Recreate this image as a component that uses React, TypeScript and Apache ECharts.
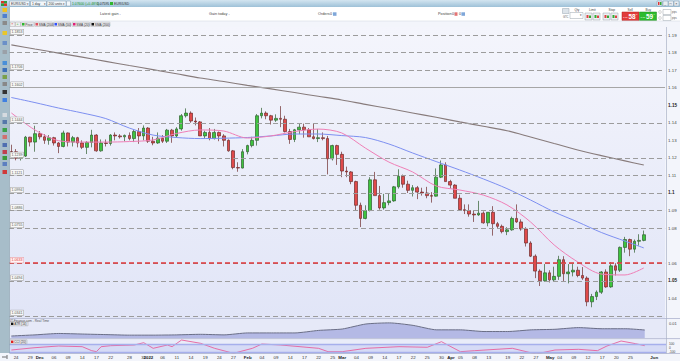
import React, { useEffect, useRef } from "react";
import * as echarts from "echarts";

const FONT = "Liberation Sans, Arial, sans-serif";

// ---------- categories (trading days) ----------
const nov21 = [23, 24, 25, 26, 29, 30];
const dec21 = [1, 2, 3, 6, 7, 8, 9, 10, 13, 14, 15, 16, 17, 20, 21, 22, 23, 24, 27, 28, 29, 30, 31];
const jan22 = [3, 4, 5, 6, 7, 10, 11, 12, 13, 14, 17, 18, 19, 20, 21, 24, 25, 26, 27, 28, 31];
const feb22 = [1, 2, 3, 4, 7, 8, 9, 10, 11, 14, 15, 16, 17, 18, 21, 22, 23, 24, 25, 28];
const mar22 = [1, 2, 3, 4, 7, 8, 9, 10, 11, 14, 15, 16, 17, 18, 21, 22, 23, 24, 25, 28, 29, 30, 31];
const apr22 = [1, 4, 5, 6, 7, 8, 11, 12, 13, 14, 15, 18, 19, 20, 21, 22, 25, 26, 27, 28, 29];
const may22 = [2, 3, 4, 5, 6, 9, 10, 11, 12, 13, 16, 17, 18, 19, 20, 23, 24, 25, 26, 27, 30, 31];
const jun22 = [1, 2, 3];
const monthDays: [string, number[]][] = [
  ["2021-11", nov21], ["2021-12", dec21], ["2022-01", jan22], ["2022-02", feb22],
  ["2022-03", mar22], ["2022-04", apr22], ["2022-05", may22], ["2022-06", jun22],
];
const categories = monthDays.flatMap(([m, ds]) => ds.map((d) => `${m}-${String(d).padStart(2, "0")}`));

// ---------- EUR/USD daily OHLC ----------
const open = [
  1.1236, 1.1235, 1.1198, 1.1210, 1.1318, 1.1290,
  1.1338, 1.1320, 1.1300, 1.1315, 1.1285, 1.1265, 1.1342, 1.1290, 1.1315, 1.1285, 1.1260, 1.1288, 1.1330, 1.1240, 1.1285, 1.1282, 1.1330, 1.1325, 1.1320, 1.1328, 1.1310, 1.1350, 1.1325,
  1.1370, 1.1295, 1.1285, 1.1312, 1.1295, 1.1358, 1.1325, 1.1365, 1.1440, 1.1455, 1.1410, 1.1405, 1.1325, 1.1345, 1.1310, 1.1345, 1.1325, 1.1300, 1.1240, 1.1145, 1.1142,
  1.1235, 1.1270, 1.1300, 1.1440, 1.1455, 1.1440, 1.1415, 1.1425, 1.1420, 1.1350, 1.1305, 1.1360, 1.1375, 1.1360, 1.1320, 1.1310, 1.1315, 1.1310, 1.1195, 1.1270,
  1.1220, 1.1125, 1.1120, 1.1065, 1.0930, 1.0855, 1.0900, 1.1075, 1.0985, 1.0915, 1.0945, 1.0955, 1.1035, 1.1095, 1.1050, 1.1015, 1.1030, 1.1005, 1.1000, 1.0985, 1.0982, 1.1090, 1.1160,
  1.1065, 1.1045, 1.0970, 1.0905, 1.0900, 1.0880, 1.0875, 1.0885, 1.0830, 1.0890, 1.0825, 1.0810, 1.0780, 1.0790, 1.0855, 1.0835, 1.0795, 1.0715, 1.0640, 1.0555, 1.0500,
  1.0545, 1.0505, 1.0525, 1.0620, 1.0540, 1.0550, 1.0560, 1.0530, 1.0515, 1.0380, 1.0410, 1.0435, 1.0550, 1.0465, 1.0585, 1.0560, 1.0690, 1.0735, 1.0680, 1.0725, 1.0730,
];
const close = [
  1.1235, 1.1198, 1.1210, 1.1318, 1.1290, 1.1338,
  1.1320, 1.1300, 1.1315, 1.1285, 1.1265, 1.1342, 1.1290, 1.1315, 1.1285, 1.1260, 1.1288, 1.1330, 1.1240, 1.1285, 1.1282, 1.1330, 1.1325, 1.1320, 1.1328, 1.1310, 1.1350, 1.1325, 1.1370,
  1.1295, 1.1285, 1.1312, 1.1295, 1.1358, 1.1325, 1.1365, 1.1440, 1.1455, 1.1410, 1.1405, 1.1325, 1.1345, 1.1310, 1.1345, 1.1325, 1.1300, 1.1240, 1.1145, 1.1142, 1.1235,
  1.1270, 1.1300, 1.1440, 1.1455, 1.1440, 1.1415, 1.1425, 1.1420, 1.1350, 1.1305, 1.1360, 1.1375, 1.1360, 1.1320, 1.1310, 1.1315, 1.1310, 1.1195, 1.1270, 1.1220,
  1.1125, 1.1120, 1.1065, 1.0930, 1.0855, 1.0900, 1.1075, 1.0985, 1.0915, 1.0945, 1.0955, 1.1035, 1.1095, 1.1050, 1.1015, 1.1030, 1.1005, 1.1000, 1.0985, 1.0982, 1.1090, 1.1160, 1.1065,
  1.1045, 1.0970, 1.0905, 1.0900, 1.0880, 1.0875, 1.0885, 1.0830, 1.0890, 1.0825, 1.0810, 1.0780, 1.0790, 1.0855, 1.0835, 1.0795, 1.0715, 1.0640, 1.0555, 1.0500, 1.0545,
  1.0505, 1.0525, 1.0620, 1.0540, 1.0550, 1.0560, 1.0530, 1.0515, 1.0380, 1.0410, 1.0435, 1.0550, 1.0465, 1.0585, 1.0560, 1.0690, 1.0735, 1.0680, 1.0725, 1.0730, 1.0762,
];
const high = [
  1.1275, 1.1250, 1.1230, 1.1325, 1.1320, 1.1383,
  1.1352, 1.1335, 1.1330, 1.1320, 1.1290, 1.1355, 1.1345, 1.1325, 1.1320, 1.1300, 1.1295, 1.1360, 1.1335, 1.1305, 1.1305, 1.1335, 1.1345, 1.1335, 1.1333, 1.1345, 1.1360, 1.1370, 1.1385,
  1.1375, 1.1320, 1.1345, 1.1330, 1.1365, 1.1365, 1.1375, 1.1450, 1.1482, 1.1465, 1.1430, 1.1410, 1.1355, 1.1370, 1.1365, 1.1350, 1.1335, 1.1305, 1.1245, 1.1175, 1.1250,
  1.1275, 1.1320, 1.1450, 1.1485, 1.1465, 1.1445, 1.1448, 1.1495, 1.1440, 1.1365, 1.1365, 1.1395, 1.1395, 1.1370, 1.1395, 1.1365, 1.1345, 1.1325, 1.1275, 1.1275,
  1.1235, 1.1150, 1.1125, 1.1070, 1.0945, 1.0930, 1.1090, 1.1120, 1.1040, 1.0995, 1.1000, 1.1040, 1.1135, 1.1105, 1.1070, 1.1045, 1.1040, 1.1030, 1.1035, 1.1005, 1.1140, 1.1185, 1.1175,
  1.1075, 1.1050, 1.0990, 1.0935, 1.0935, 1.0900, 1.0955, 1.0895, 1.0890, 1.0925, 1.0835, 1.0820, 1.0805, 1.0865, 1.0935, 1.0850, 1.0805, 1.0725, 1.0650, 1.0565, 1.0595,
  1.0560, 1.0580, 1.0642, 1.0640, 1.0595, 1.0595, 1.0580, 1.0578, 1.0525, 1.0425, 1.0445, 1.0555, 1.0565, 1.0605, 1.0600, 1.0695, 1.0750, 1.0740, 1.0735, 1.0765, 1.0786,
];
const low = [
  1.1226, 1.1186, 1.1185, 1.1205, 1.1265, 1.1235,
  1.1305, 1.1280, 1.1275, 1.1270, 1.1227, 1.1260, 1.1265, 1.1265, 1.1260, 1.1250, 1.1222, 1.1260, 1.1235, 1.1235, 1.1265, 1.1270, 1.1300, 1.1310, 1.1295, 1.1300, 1.1290, 1.1280, 1.1300,
  1.1285, 1.1272, 1.1280, 1.1285, 1.1285, 1.1286, 1.1315, 1.1355, 1.1430, 1.1400, 1.1385, 1.1325, 1.1310, 1.1300, 1.1305, 1.1295, 1.1265, 1.1235, 1.1135, 1.1121, 1.1140,
  1.1220, 1.1260, 1.1270, 1.1425, 1.1420, 1.1390, 1.1405, 1.1375, 1.1345, 1.1280, 1.1290, 1.1335, 1.1315, 1.1320, 1.1305, 1.1290, 1.1300, 1.1106, 1.1185, 1.1160,
  1.1090, 1.1090, 1.1050, 1.0900, 1.0806, 1.0850, 1.0895, 1.0985, 1.0905, 1.0905, 1.0930, 1.0950, 1.1025, 1.1030, 1.1000, 1.0980, 1.0965, 1.0985, 1.0970, 1.0945, 1.0980, 1.1085, 1.1065,
  1.1025, 1.0970, 1.0900, 1.0880, 1.0865, 1.0835, 1.0870, 1.0825, 1.0810, 1.0757, 1.0800, 1.0770, 1.0760, 1.0785, 1.0830, 1.0785, 1.0695, 1.0635, 1.0515, 1.0470, 1.0495,
  1.0490, 1.0495, 1.0505, 1.0495, 1.0485, 1.0525, 1.0520, 1.0505, 1.0355, 1.0349, 1.0390, 1.0425, 1.0460, 1.0460, 1.0530, 1.0550, 1.0660, 1.0640, 1.0660, 1.0700, 1.0725,
];

// ---------- moving averages (every 5th session) ----------
const maIdx = [0, 5, 10, 15, 20, 25, 30, 35, 40, 45, 50, 55, 60, 65, 70, 75, 80, 85, 90, 95, 100, 105, 110, 115, 120, 125, 130, 134];
const sma200 = [1.1844, 1.1820, 1.1797, 1.1774, 1.1750, 1.1726, 1.1703, 1.1679, 1.1655, 1.1635, 1.1613, 1.1593, 1.1572, 1.1551, 1.1530, 1.1505, 1.1481, 1.1456, 1.1431, 1.1405, 1.1380, 1.1355, 1.1319, 1.1282, 1.1245, 1.1213, 1.1183, 1.1159];
const sma50 = [1.1544, 1.1515, 1.1484, 1.1456, 1.1424, 1.1370, 1.1330, 1.1316, 1.1310, 1.1312, 1.1316, 1.1325, 1.1336, 1.1336, 1.1327, 1.1316, 1.1279, 1.1228, 1.1179, 1.1131, 1.1080, 1.1025, 1.0960, 1.0892, 1.0835, 1.0775, 1.0726, 1.0687];
const sma20 = [1.1456, 1.1359, 1.1298, 1.1290, 1.1290, 1.1293, 1.1302, 1.1339, 1.1359, 1.1353, 1.1313, 1.1325, 1.1350, 1.1364, 1.1342, 1.1256, 1.1176, 1.1120, 1.1040, 1.1017, 1.0988, 1.0932, 1.0835, 1.0704, 1.0607, 1.0538, 1.0533, 1.0573];
const atr14 = [0.0057, 0.0061, 0.0066, 0.0064, 0.0062, 0.0060, 0.0060, 0.0061, 0.0063, 0.0061, 0.0068, 0.0068, 0.0068, 0.0077, 0.0082, 0.0100, 0.0104, 0.0095, 0.0079, 0.0079, 0.0073, 0.0073, 0.0079, 0.0081, 0.0087, 0.0083, 0.0083, 0.00785];

const cciIdx = [0, 5, 10, 15, 17, 18, 19, 21, 26, 28, 30, 33, 34, 36, 40, 43, 47, 51, 53, 57, 65, 67, 70, 75, 82, 88, 91, 95, 98, 106, 111, 115, 120, 124, 126, 129, 132, 134];
const cci20 = [-50, 8, 50, 33, -67, -92, 33, 58, 75, 133, -8, 75, 33, 200, 118, -8, -133, -8, 100, 75, -8, -92, -92, -8, 33, 18, 158, -92, -67, -8, -150, -50, -33, -67, 50, 175, 110, 58];

// ---------- axis ticks & levels ----------
const priceTicks = [1.04, 1.05, 1.06, 1.08, 1.09, 1.1, 1.11, 1.12, 1.13, 1.14, 1.15, 1.16, 1.17, 1.18, 1.19];
const xTickDates = [
  "2021-11-24", "2021-11-29", "2021-12-01", "2021-12-06", "2021-12-09", "2021-12-14", "2021-12-17", "2021-12-22", "2021-12-28", "2021-12-31",
  "2022-01-03", "2022-01-06", "2022-01-11", "2022-01-14", "2022-01-19", "2022-01-24", "2022-01-27",
  "2022-02-01", "2022-02-04", "2022-02-09", "2022-02-14", "2022-02-17", "2022-02-22", "2022-02-25",
  "2022-03-01", "2022-03-04", "2022-03-09", "2022-03-14", "2022-03-17", "2022-03-22", "2022-03-25", "2022-03-30",
  "2022-04-01", "2022-04-05", "2022-04-08", "2022-04-13", "2022-04-19", "2022-04-22", "2022-04-27",
  "2022-05-02", "2022-05-04", "2022-05-09", "2022-05-12", "2022-05-17", "2022-05-20", "2022-05-25", "2022-06-01",
];
const xTickText = [
  "24", "29", "Dec", "06", "09", "14", "17", "22", "28", "31",
  "2022", "06", "11", "14", "19", "24", "27",
  "Feb", "04", "09", "14", "17", "22", "25",
  "Mar", "04", "09", "14", "17", "22", "25", "30",
  "Apr", "05", "08", "13", "19", "22", "27",
  "May", "04", "09", "12", "17", "20", "25", "Jun",
];
const dashedLevels = [1.1924, 1.1853, 1.1839, 1.1706, 1.1444, 1.1239, 1.1216, 1.1121, 1.0994, 1.0886, 1.0817, 1.0755, 1.0568, 1.0494, 1.0341];
const unlabeledLevels = [1.1839, 1.1216];
const solidLevels = [1.1602];
const redLevels = [1.0633];

// ---------- helpers ----------
const sparse = (idx: number[], vals: number[]) => {
  const a: (number | null)[] = categories.map(() => null);
  idx.forEach((k, j) => (a[k] = vals[j]));
  return a;
};
const tickMap = new Map(xTickDates.map((d, i) => [d, xTickText[i]]));

const T = (x: number, y: number, text: string, o: any = {}) => ({
  type: "text", x, y, z: 60, silent: true,
  style: {
    text, fontSize: o.size ?? 3.8, fill: o.fill ?? "#333", fontWeight: o.weight ?? "normal", fontFamily: FONT,
    align: o.align ?? "left", verticalAlign: "middle", textAlign: o.align ?? "left", textVerticalAlign: "middle",
  },
});
const R = (x: number, y: number, w: number, h: number, fill: any, stroke?: string, r = 0) => ({
  type: "rect", z: 55, silent: true, shape: { x, y, width: w, height: h, r },
  style: { fill, stroke: stroke ?? "none", lineWidth: stroke ? 0.5 : 0 },
});
const L = (x1: number, y1: number, x2: number, y2: number, stroke: string, w = 0.6) => ({
  type: "line", z: 56, silent: true, shape: { x1, y1, x2, y2 }, style: { stroke, lineWidth: w },
});

const lvlLabel = {
  show: true, position: "insideStartTop", distance: [1.5, 0.6], fontSize: 3.6, color: "#555", fontFamily: FONT,
  backgroundColor: "#f8f8f8", borderColor: "#9a9a9a", borderWidth: 0.5, padding: [0.6, 1, 0.3, 1],
};
const tag = (v: number, text: string, bg: string, fg: string, bc: string) => ({
  yAxis: v, lineStyle: { opacity: 0, width: 0 },
  label: {
    show: true, position: "end", distance: 1, formatter: text, fontSize: 3.4, lineHeight: 3.6, color: fg, fontFamily: FONT,
    backgroundColor: bg, borderColor: bc, borderWidth: 0.5, padding: [0.4, 1, 0.2, 1],
  },
});

function buildGraphics() {
  const g: any[] = [];
  // top bar
  g.push(R(0, 0, 680, 7, new echarts.graphic.LinearGradient(0, 0, 0, 1, [
    { offset: 0, color: "#d3e5f0" }, { offset: 1, color: "#9ec1d8" }])));
  g.push(R(1, 1, 3, 2.5, "#d9352b"), R(4, 1, 3, 2.5, "#2e9e3e"), R(1, 3.5, 3, 2.5, "#2e9e3e"), R(4, 3.5, 3, 2.5, "#d9352b"));
  g.push(R(9.5, 1, 20, 5, "#f3f7fa", "#7f9bb0"), T(11, 3.6, "EUR/USD", { size: 3.4 }), T(27, 3.6, "▾", { size: 3 }));
  g.push(R(30.5, 1, 16, 5, "#f3f7fa", "#7f9bb0"), T(32, 3.6, "1 day", { size: 3.4 }), T(43.5, 3.6, "▾", { size: 3 }));
  g.push(R(47, 1, 19, 5, "#f3f7fa", "#7f9bb0"), T(48.5, 3.6, "200 units", { size: 3.4 }), T(63, 3.6, "▾", { size: 3 }));
  g.push(R(66.5, 1, 4, 5, "#f3f7fa", "#7f9bb0"));
  g.push(T(72, 3.6, "1.07600 (+0.48%)", { size: 3.4, fill: "#1f9a2a" }), T(97, 3.6, "1.07595", { size: 3.4, fill: "#222" }));
  g.push(R(110, 2, 3, 3, "#2fb52f"), T(114, 3.6, "EUR/USD", { size: 3.4 }));
  g.push(R(657, 1, 5, 5, "#e8eef2", "#7f9bb0"), R(658, 2, 1.5, 3, "#d33"), R(660, 2, 1.5, 3, "#3a3"));
  g.push(R(663, 1, 5, 5, "#e8eef2", "#7f9bb0"), T(664.3, 3.8, "_", { size: 3.4 }));
  g.push(R(668.5, 1, 5, 5, "#e8eef2", "#7f9bb0"), T(669.6, 3.6, "□", { size: 3.4 }));
  g.push(R(674, 1, 5, 5, "#e8eef2", "#7f9bb0"), T(675.2, 3.6, "×", { size: 3.8 }));
  // info panel
  g.push(R(9.5, 7, 670.5, 14, "#ffffff"), L(9.5, 21, 680, 21, "#cdd5dd", 0.5));
  g.push(T(100, 14, "Latest gain", { fill: "#444" }), T(119.5, 14, "-", { fill: "#444" }));
  g.push(T(209, 14, "Gain today", { fill: "#444" }), T(228.5, 14, "-", { fill: "#444" }));
  g.push(T(318, 14, "Orders", { fill: "#444" }), T(330, 14, "0", { fill: "#444" }), R(333, 12.3, 3.5, 3.5, "#7fa6d9"));
  g.push(T(438, 14, "Position", { fill: "#444" }), T(452, 14, "0", { fill: "#444" }), R(454.5, 12.3, 3, 3.5, "#e57373"));
  g.push(T(459, 14, "0", { fill: "#444" }), R(461.5, 12.3, 3.5, 3.5, "#7fa6d9"));
  // trading widget
  g.push(R(562.5, 8.5, 6.5, 5, "#dde4ea", "#98a6b0"), T(563, 17, "GTC", { size: 2.6, fill: "#555" }));
  g.push(T(574.5, 10, "Qty", { size: 3.2, fill: "#444" }), R(570, 12.5, 13, 6, "#ffffff", "#9aa4ad"), T(580, 15.5, "▾", { size: 2.6 }));
  g.push(T(589, 10, "Limit", { size: 3.2, fill: "#444" }), R(585, 13, 7, 7, "#eef1f4", "#99a2ab"), R(593, 13, 7, 7, "#eef1f4", "#99a2ab"));
  g.push(R(586.5, 15, 2, 3, "#d44"), R(589, 15.5, 2, 2.5, "#3a3"), R(594.5, 15, 2, 3, "#3a3"), R(597, 15.5, 2, 2.5, "#d44"));
  g.push(T(608.5, 10, "Stop", { size: 3.2, fill: "#444" }), R(603, 13, 7, 7, "#eef1f4", "#99a2ab"), R(611, 13, 7, 7, "#eef1f4", "#99a2ab"));
  g.push(R(604.5, 15, 2, 3, "#d44"), R(607, 15.5, 2, 2.5, "#3a3"), R(612.5, 15, 2, 3, "#3a3"), R(615, 15.5, 2, 2.5, "#d44"));
  g.push(T(627.5, 9.6, "Sell", { size: 3.2, fill: "#444" }), R(622, 12, 17, 8.5, "#e23b3b", "#b32222"));
  g.push(T(623, 17, "1.07", { size: 2.4, fill: "#fff" }), T(628.5, 16.2, "58", { size: 6.4, fill: "#fff", weight: "bold" }), T(636, 14, "0", { size: 2.4, fill: "#fff" }));
  g.push(T(645.5, 9.6, "Buy", { size: 3.2, fill: "#444" }), R(639.5, 12, 17, 8.5, "#2dbb2d", "#1e8a1e"));
  g.push(T(640.5, 17, "1.07", { size: 2.4, fill: "#fff" }), T(646, 16.2, "59", { size: 6.4, fill: "#fff", weight: "bold" }), T(653.5, 14, "9", { size: 2.4, fill: "#fff" }));
  g.push({ type: "circle", z: 56, silent: true, shape: { cx: 660, cy: 12, r: 1.3 }, style: { fill: "#fff", stroke: "#888", lineWidth: 0.4 } });
  g.push({ type: "circle", z: 56, silent: true, shape: { cx: 660, cy: 18, r: 1.3 }, style: { fill: "#fff", stroke: "#888", lineWidth: 0.4 } });
  g.push(R(663, 9.5, 8, 5, "#fff", "#99a2ab"), R(663, 15.5, 8, 5, "#fff", "#99a2ab"));
  g.push(T(672, 12, "pips", { size: 2.6, fill: "#555" }), T(672, 18, "pips", { size: 2.6, fill: "#555" }));
  // left toolbar
  g.push(R(0, 7, 9.5, 346, "#a7bdc9"), L(9.5, 7, 9.5, 353, "#8ba1ad", 0.6));
  const icons: [number, string][] = [
    [10, "#f0c020"], [16, "#4f7fcf"], [23, "#8a8a8a"], [33, "#e9c62a"], [43, "#6a8fc8"], [52, "#9aa0a8"],
    [63, "#4a8fd8"], [70, "#3d6fb8"], [77, "#7aa04a"], [84, "#888888"], [92, "#333333"], [100, "#3f7fe0"],
    [115, "#d6dbe0"], [122, "#5577aa"], [130, "#3aa04a"], [137, "#d07070"], [145, "#4f6fb0"], [152, "#c04050"],
    [158, "#3a9a3a"], [164, "#5c7fc0"], [172, "#d03a3a"],
  ];
  icons.forEach(([y, c]) => g.push(R(2.5, y - 2, 4.5, 4, c)));
  g.push(L(2, 357, 6.5, 357, "#333", 0.7), L(7, 355, 7, 359, "#333", 0.7));
  // price legend row
  g.push(R(10, 22, 5, 4.5, "#efefef", "#aaaaaa"), T(11.2, 24.3, "×", { size: 3.6, fill: "#d33" }));
  g.push(R(15.5, 22, 5, 4.5, "#efefef", "#aaaaaa"), T(16.6, 24.3, "+", { size: 3.6, fill: "#2a2" }));
  const items: [number, number, string, string][] = [
    [21, 13, "#2fb52f", "Price"], [34.5, 18, "#e05060", "SMA (200)"], [53.5, 17, "#3050ff", "SMA (50)"],
    [72, 17.5, "#e0207a", "SMA (20)"], [90.5, 19.5, "#111111", "SMA (200)"],
  ];
  items.forEach(([x, w, c, s]) => {
    g.push(R(x, 22, w, 4.5, "#e8e8ec", "#b5b5b5", 0.6), R(x + 1, 23, 2.5, 2.5, c), T(x + 4.3, 24.4, s, { size: 3.2 }));
  });
  // lower panes chrome
  g.push(T(10, 320.4, "IT-Finance.com - Real Time", { size: 3.2, fill: "#555" }));
  g.push(R(10, 321.8, 18, 4, "#ececf0", "#aaaaaa"), R(11, 322.6, 2.4, 2.4, "#111"), T(14.3, 323.9, "ATR (14)", { size: 3.1 }));
  g.push(R(10, 339.8, 17, 4, "#ececf0", "#aaaaaa"), R(11, 340.6, 2.4, 2.4, "#e02020"), T(14.3, 341.9, "CCI (20)", { size: 3.1 }));
  g.push(L(9.5, 318.5, 680, 318.5, "#a4aac8", 0.7), L(9.5, 338.6, 680, 338.6, "#a4aac8", 0.7), L(9.5, 353.5, 680, 353.5, "#a4aac8", 0.7));
  g.push(L(666.5, 27, 666.5, 353.5, "#a9b2c6", 0.7));
  return g;
}

export default function App() {
  const ref = useRef<HTMLDivElement>(null);
  useEffect(() => {
    if (!ref.current) return;
    const chart = echarts.init(ref.current, null, { renderer: "svg" });
    const candleData = open.map((o, i) => [o, close[i], low[i], high[i]]);
    const gridBase = { left: 9, right: 14, show: true, borderWidth: 0 };
    const hiddenX = (gi: number) => ({
      type: "category", gridIndex: gi, data: categories, boundaryGap: true,
      axisLine: { show: false }, axisTick: { show: false }, axisLabel: { show: false }, splitLine: { show: false },
    });
    const levelLabel = (v: number) => (unlabeledLevels.includes(v) ? { show: false } : { ...lvlLabel, formatter: v.toFixed(4) });
    const option: any = {
      animation: false,
      backgroundColor: "#f3f5fb",
      grid: [
        { ...gridBase, top: 27, height: 291, backgroundColor: new echarts.graphic.LinearGradient(0, 0, 0, 1, [
          { offset: 0, color: "#f4f5fc" }, { offset: 1, color: "#e1e5f7" }]) },
        { ...gridBase, top: 319, height: 19, backgroundColor: "#e6e9f8" },
        { ...gridBase, top: 339, height: 14, backgroundColor: "#e9ecf9" },
      ],
      xAxis: [
        hiddenX(0),
        hiddenX(1),
        {
          ...hiddenX(2),
          axisLabel: {
            show: true, margin: 2.5, fontSize: 4.4, color: "#333", fontFamily: FONT,
            interval: (_i: number, v: string) => tickMap.has(v),
            formatter: (v: string) => {
              const t = tickMap.get(v) ?? "";
              return /^\d\d$/.test(t) ? t : `{b|${t}}`;
            },
            rich: { b: { fontWeight: "bold", fontSize: 4.4, color: "#222", fontFamily: FONT } },
          },
        },
      ],
      yAxis: [
        {
          type: "value", gridIndex: 0, position: "right", min: 1.02878, max: 1.19456,
          axisLine: { show: false }, axisTick: { show: false }, splitLine: { show: false },
          axisLabel: {
            show: true, margin: 3, fontSize: 4.4, lineHeight: 4.6, color: "#444", fontFamily: FONT, customValues: priceTicks,
            formatter: (v: number) => {
              const s = String(+v.toFixed(2));
              return Math.abs(v * 20 - Math.round(v * 20)) < 1e-6 ? `{b|${s}}` : s;
            },
            rich: { b: { fontWeight: "bold", fontSize: 4.6, lineHeight: 4.6, color: "#222", fontFamily: FONT } },
          },
        },
        {
          type: "value", gridIndex: 1, position: "right", min: 0.00498, max: 0.01179,
          axisLine: { show: false }, axisTick: { show: false }, splitLine: { show: false },
          axisLabel: { show: true, margin: 3, fontSize: 4, lineHeight: 4, color: "#444", fontFamily: FONT, customValues: [0.01], formatter: () => "0.01" },
        },
        {
          type: "value", gridIndex: 2, position: "right", min: -125, max: 225,
          axisLine: { show: false }, axisTick: { show: false }, splitLine: { show: false },
          axisLabel: { show: true, margin: 3, fontSize: 3.2, lineHeight: 3.4, color: "#444", fontFamily: FONT, customValues: [100, 0, -100] },
        },
      ],
      graphic: { elements: buildGraphics() },
      series: [
        {
          name: "Price", type: "candlestick", xAxisIndex: 0, yAxisIndex: 0, data: candleData, barWidth: 3.2,
          itemStyle: { color: "#3ec43e", color0: "#e04a4a", borderColor: "#2f5e2f", borderColor0: "#6e2c2c", borderWidth: 0.7 },
          markLine: {
            symbol: "none", silent: true,
            data: [
              ...dashedLevels.map((v) => ({ yAxis: v, lineStyle: { type: [5, 3], color: "#9c9c9c", width: 1.2 }, label: levelLabel(v) })),
              ...solidLevels.map((v) => ({ yAxis: v, lineStyle: { type: "solid", color: "#a6a6a6", width: 1 }, label: levelLabel(v) })),
              ...redLevels.map((v) => ({ yAxis: v, lineStyle: { type: [5, 3], color: "#e0383c", width: 1.5 }, label: { ...lvlLabel, formatter: v.toFixed(4), color: "#e0383c", borderColor: "#f0a0a8", backgroundColor: "#fff2f4" } })),
              tag(1.0762, "1.07622", "#f2df45", "#333333", "#b9a300"),
              tag(1.0736, "1.07360", "#63cf63", "#10400f", "#2e9a2e"),
            ],
          },
        },
        {
          name: "SMA (200)", type: "line", xAxisIndex: 0, yAxisIndex: 0, data: sparse(maIdx, sma200), connectNulls: true, smooth: 0.3,
          symbol: "none", lineStyle: { color: "#877b7b", width: 1.1 },
          markLine: { symbol: "none", silent: true, data: [tag(1.1159, "1.11590", "#d9d9d9", "#333333", "#999999"), tag(1.1142, "1.11420", "#ffd9dc", "#d03030", "#e89a9a")] },
        },
        {
          name: "SMA (50)", type: "line", xAxisIndex: 0, yAxisIndex: 0, data: sparse(maIdx, sma50), connectNulls: true, smooth: 0.3,
          symbol: "none", lineStyle: { color: "#7d8ff0", width: 1 },
          markLine: { symbol: "none", silent: true, data: [tag(1.0687, "1.06870", "#d6dcff", "#2b46e0", "#8a9cf0")] },
        },
        {
          name: "SMA (20)", type: "line", xAxisIndex: 0, yAxisIndex: 0, data: sparse(maIdx, sma20), connectNulls: true, smooth: 0.3,
          symbol: "none", lineStyle: { color: "#ef7fb6", width: 1 },
          markLine: { symbol: "none", silent: true, data: [tag(1.0573, "1.05734", "#ffd6e6", "#d0206a", "#f0a0c0")] },
        },
        {
          name: "ATR (14)", type: "line", xAxisIndex: 1, yAxisIndex: 1, data: sparse(maIdx, atr14), connectNulls: true, smooth: 0.2,
          symbol: "none", lineStyle: { color: "#6a6e86", width: 1 }, areaStyle: { color: "#b4b9e5", opacity: 1 },
          markLine: { symbol: "none", silent: true, data: [tag(0.00785, "0.00785", "#ffffff", "#333333", "#999999")] },
        },
        {
          name: "CCI (20)", type: "line", xAxisIndex: 2, yAxisIndex: 2, data: sparse(cciIdx, cci20), connectNulls: true,
          symbol: "none", lineStyle: { color: "#e8609c", width: 0.9 },
          markArea: { silent: true, itemStyle: { color: "#d6dbf6" }, data: [[{ yAxis: 100 }, { yAxis: -100 }]] },
          markLine: {
            symbol: "none", silent: true,
            data: [
              { yAxis: 100, lineStyle: { type: "solid", color: "#a6afec", width: 1.4 }, label: { show: false } },
              { yAxis: -100, lineStyle: { type: "solid", color: "#a6afec", width: 1.4 }, label: { show: false } },
              tag(58, "58.12", "#ffd6e6", "#d0206a", "#f0a0c0"),
            ],
          },
        },
      ],
    };
    chart.setOption(option);
    return () => chart.dispose();
  }, []);
  return <div ref={ref} style={{ position: "fixed", left: 0, top: 0, width: 680, height: 361 }} />;
}
